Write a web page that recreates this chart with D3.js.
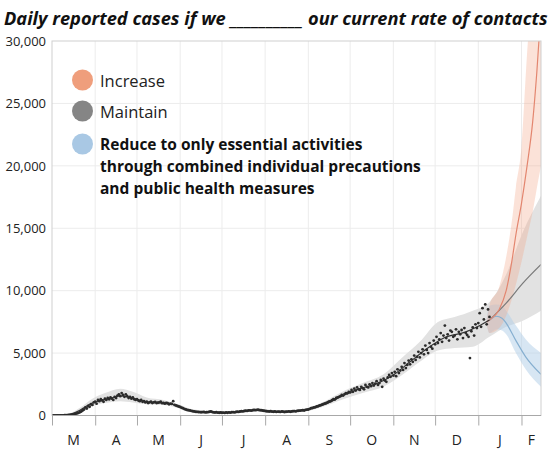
<!DOCTYPE html>
<html>
<head>
<meta charset="utf-8">
<script src="https://cdn.jsdelivr.net/npm/d3@7"></script>
<style>
  body { margin: 0; background: #fff; }
  svg { display: block; }
  text { font-family: "Open Sans", "Noto Sans", sans-serif; }
</style>
</head>
<body>
<div id="chart"></div>
<script>
// Month letters along the bottom and value ticks on the left
var monthLabels = ["M", "A", "M", "J", "J", "A", "S", "O", "N", "D", "J", "F"];
var yTicks = [0, 5000, 10000, 15000, 20000, 25000, 30000];

// Daily reported cases (dots), one value per day starting Mar 1 2020
var obsStart = "2020-03-01";
var casesMar = [0, 0, 0, 1, 2, 5, 8, 10, 15, 20, 25, 30, 40, 55, 70, 90, 110, 140, 170, 210, 260, 320, 400, 480, 650, 560, 760, 700, 900, 850, 1050];
var casesApr = [1100, 950, 1250, 1150, 1300, 1200, 1100, 1350, 1250, 1400, 1300, 1450, 1350, 1250, 1500, 1400, 1600, 1700, 1550, 1800, 1650, 1500, 1700, 1550, 1400, 1500, 1350, 1450, 1300, 1250];
var casesMay = [1300, 1200, 1150, 1250, 1100, 1150, 1050, 1100, 1000, 1050, 1100, 1000, 1050, 1080, 1000, 1020, 1050, 1100, 990, 1000, 950, 1000, 980, 900, 950, 930, 1150, 850, 800, 760, 720];
var casesJun = [680, 620, 580, 520, 480, 440, 420, 400, 370, 340, 320, 300, 290, 280, 270, 260, 270, 280, 250, 260, 270, 300, 330, 280, 250, 240, 260, 230, 220, 240];
var casesJul = [220, 230, 210, 240, 220, 250, 230, 260, 270, 250, 280, 300, 290, 320, 340, 330, 360, 380, 370, 400, 410, 390, 420, 440, 430, 450, 460, 430, 420, 400, 380];
var casesAug = [360, 340, 330, 320, 340, 310, 300, 320, 290, 310, 300, 290, 320, 300, 280, 300, 310, 330, 300, 320, 340, 350, 330, 370, 380, 390, 410, 420, 400, 450, 470];
var casesSep = [480, 530, 580, 600, 640, 660, 720, 740, 800, 830, 880, 920, 960, 1000, 1060, 1120, 1150, 1230, 1300, 1280, 1400, 1450, 1500, 1550, 1650, 1600, 1720, 1800, 1780, 1900];
var casesOct = [1850, 2050, 1900, 2150, 2000, 2250, 2100, 2050, 2300, 2200, 2100, 2450, 2300, 2250, 2500, 2350, 2600, 2400, 2550, 2750, 2450, 2600, 2850, 2300, 2950, 2800, 2700, 3050, 3250, 3100, 3400];
var casesNov = [3200, 3500, 3150, 3700, 3400, 3600, 3900, 3650, 4200, 3800, 4050, 4400, 4100, 4500, 4300, 4800, 4450, 4700, 5100, 4650, 5000, 5300, 4900, 5600, 5250, 5000, 5800, 5500, 5350, 6000];
var casesDec = [5700, 6300, 5800, 6100, 6600, 5900, 6400, 7200, 6200, 6500, 6000, 6800, 6700, 6300, 6400, 6900, 6100, 6700, 6500, 6850, 6200, 7000, 6600, 6450, 6300, 4600, 6750, 7050, 6400, 7300, 7000];
var casesJan = [7400, 8200, 7100, 8600, 7700, 8900, 7300, 8500, 7900];

// Fitted curve through the observed period
var fitDates = ["2020-03-01", "2020-03-08", "2020-03-14", "2020-03-21", "2020-03-25", "2020-03-30", "2020-04-05", "2020-04-12", "2020-04-19", "2020-04-26", "2020-05-03", "2020-05-10", "2020-05-18", "2020-05-25", "2020-05-31", "2020-06-08", "2020-06-16", "2020-06-25", "2020-07-03", "2020-07-10", "2020-07-20", "2020-07-27", "2020-08-03", "2020-08-15", "2020-08-27", "2020-09-03", "2020-09-14", "2020-09-26", "2020-10-08", "2020-10-20", "2020-11-01", "2020-11-13", "2020-11-25", "2020-12-08", "2020-12-23", "2021-01-01", "2021-01-09"];
var fitValues = [0, 20, 100, 420, 700, 1000, 1200, 1380, 1580, 1450, 1220, 1060, 1030, 950, 720, 400, 270, 260, 230, 260, 400, 440, 330, 300, 400, 560, 950, 1600, 2150, 2550, 3250, 4300, 5350, 6250, 6700, 7150, 7650];

// Grey uncertainty band (observed fit, then "maintain")
var bandDates = ["2020-03-01", "2020-03-14", "2020-03-21", "2020-03-30", "2020-04-08", "2020-04-19", "2020-04-28", "2020-05-08", "2020-05-20", "2020-05-31", "2020-06-10", "2020-06-25", "2020-07-10", "2020-07-25", "2020-08-10", "2020-08-27", "2020-09-10", "2020-09-26", "2020-10-10", "2020-10-25", "2020-11-08", "2020-11-20", "2020-12-03", "2020-12-15", "2020-12-28", "2021-01-09", "2021-01-21", "2021-02-02", "2021-02-15"];
var bandLo = [0, 30, 250, 750, 1000, 1150, 1050, 900, 850, 580, 280, 180, 180, 330, 220, 300, 650, 1300, 1800, 2300, 3300, 4300, 5200, 5400, 5500, 6300, 7100, 7600, 8400];
var bandHi = [0, 180, 620, 1350, 1800, 2150, 1900, 1450, 1250, 880, 500, 360, 360, 560, 420, 520, 1000, 1950, 2600, 3300, 4700, 5900, 7500, 7900, 8400, 9100, 11300, 14700, 17600];

// Maintain projection
var maintainDates = ["2021-01-09", "2021-01-15", "2021-01-21", "2021-02-02", "2021-02-15"];
var maintainValues = [7650, 8300, 9000, 10600, 12100];

// Increase projection
var incDates = ["2021-01-07", "2021-01-09", "2021-01-16", "2021-01-21", "2021-01-25", "2021-01-28", "2021-02-01", "2021-02-05", "2021-02-09", "2021-02-12", "2021-02-15"];
var incValues = [7500, 7650, 8500, 10000, 12300, 14500, 17000, 20000, 23500, 27500, 32500];
var incLo = [7300, 6600, 7000, 8000, 9300, 10500, 12300, 14300, 16300, 18200, 20000];
var incHi = [7700, 8800, 10300, 12700, 15500, 18300, 21500, 29000, 35000, 40000, 45000];

// Reduce projection
var redDates = ["2021-01-07", "2021-01-09", "2021-01-14", "2021-01-18", "2021-01-21", "2021-01-28", "2021-02-04", "2021-02-15"];
var redValues = [7500, 7650, 7950, 7800, 7400, 6000, 4700, 3300];
var redLo = [7300, 6600, 6900, 6800, 6500, 5000, 3700, 2300];
var redHi = [7700, 8800, 8900, 8800, 8400, 7200, 6100, 5000];

var legendItems = ["Increase", "Maintain"];
var legendBold = ["Reduce to only essential activities", "through combined individual precautions", "and public health measures"];

var colors = {
  inc: "#ef9e7c", incLine: "#e3866f", incBand: "rgba(244,168,138,0.33)",
  main: "#858585", mainLine: "#7a7a7a", band: "#e2e2e2",
  red: "#a9c8e4", redLine: "#86afd0", redBand: "rgba(176,206,232,0.5)",
  dot: "#2b2b2b"
};

var parse = d3.timeParse("%Y-%m-%d");

var svg = d3.select("#chart").append("svg").attr("width", 553).attr("height", 459);

var x = d3.scaleTime().domain([parse("2020-03-01"), parse("2021-02-15")]).range([52, 541]);
var y = d3.scaleLinear().domain([0, 30000]).range([415.5, 41]);

function rows(dates, vals, lo, hi) {
  return dates.map(function (d, i) {
    return { date: parse(d), v: vals ? vals[i] : null, lo: lo ? lo[i] : null, hi: hi ? hi[i] : null };
  });
}

var monthStarts = d3.timeMonth.range(x.domain()[0], x.domain()[1]);

// gridlines
var grid = svg.append("g").attr("stroke", "#ececec").attr("stroke-width", 1);
grid.selectAll(".vg").data(monthStarts.slice(1)).enter().append("line")
  .attr("x1", function (d) { return x(d); }).attr("x2", function (d) { return x(d); })
  .attr("y1", y.range()[1]).attr("y2", y.range()[0]);
grid.selectAll(".hg").data(yTicks.slice(1, -1)).enter().append("line")
  .attr("x1", x.range()[0]).attr("x2", x.range()[1])
  .attr("y1", function (d) { return y(d); }).attr("y2", function (d) { return y(d); });

svg.append("clipPath").attr("id", "plot").append("rect")
  .attr("x", x.range()[0]).attr("y", y.range()[1])
  .attr("width", x.range()[1] - x.range()[0]).attr("height", y.range()[0] - y.range()[1]);

var plot = svg.append("g").attr("clip-path", "url(#plot)");

var area = d3.area().curve(d3.curveMonotoneX)
  .x(function (d) { return x(d.date); })
  .y0(function (d) { return y(d.lo); })
  .y1(function (d) { return y(d.hi); });
var line = d3.line().curve(d3.curveMonotoneX)
  .x(function (d) { return x(d.date); })
  .y(function (d) { return y(d.v); });

plot.append("path").datum(rows(bandDates, null, bandLo, bandHi)).attr("d", area).attr("fill", colors.band);
plot.append("path").datum(rows(redDates, null, redLo, redHi)).attr("d", area).attr("fill", colors.redBand);
plot.append("path").datum(rows(incDates, null, incLo, incHi)).attr("d", area).attr("fill", colors.incBand);

plot.append("path").datum(rows(maintainDates, maintainValues)).attr("d", line)
  .attr("fill", "none").attr("stroke", colors.mainLine).attr("stroke-width", 1.2);
plot.append("path").datum(rows(redDates, redValues)).attr("d", line)
  .attr("fill", "none").attr("stroke", colors.redLine).attr("stroke-width", 1.2);
plot.append("path").datum(rows(incDates, incValues)).attr("d", line)
  .attr("fill", "none").attr("stroke", colors.incLine).attr("stroke-width", 1.2);
plot.append("path").datum(rows(fitDates, fitValues)).attr("d", line)
  .attr("fill", "none").attr("stroke", "#333").attr("stroke-width", 1.2);

// daily dots
var dailyCases = [].concat(casesMar, casesApr, casesMay, casesJun, casesJul, casesAug, casesSep, casesOct, casesNov, casesDec, casesJan);
var start = parse(obsStart);
plot.selectAll(".dot").data(dailyCases).enter().append("circle")
  .attr("class", "dot")
  .attr("cx", function (d, i) { return x(d3.timeDay.offset(start, i)); })
  .attr("cy", function (d) { return y(d); })
  .attr("r", 1.4)
  .attr("fill", colors.dot);

// frame
svg.append("rect")
  .attr("x", x.range()[0]).attr("y", y.range()[1])
  .attr("width", x.range()[1] - x.range()[0]).attr("height", y.range()[0] - y.range()[1])
  .attr("fill", "none").attr("stroke", "#cfcfcf");

// x axis: month ticks, letters centred in each month
var xAxis = svg.append("g")
  .attr("transform", "translate(0," + y.range()[0] + ")")
  .call(d3.axisBottom(x).tickValues(monthStarts).tickSize(10).tickFormat(""));
xAxis.select(".domain").attr("stroke", "#a8a8a8").attr("d", "M" + x.range()[0] + ",0H" + x.range()[1]);
xAxis.selectAll(".tick line").attr("stroke", "#a8a8a8");

svg.selectAll(".mlabel").data(monthStarts).enter().append("text")
  .attr("x", function (d, i) {
    var end = i < monthStarts.length - 1 ? monthStarts[i + 1] : x.domain()[1];
    return (x(d) + x(end)) / 2;
  })
  .attr("y", 445)
  .attr("text-anchor", "middle")
  .attr("font-size", "14px")
  .attr("fill", "#222")
  .text(function (d, i) { return monthLabels[i]; });

// y axis labels
var yAxis = svg.append("g")
  .attr("transform", "translate(" + x.range()[0] + ",0)")
  .call(d3.axisLeft(y).tickValues(yTicks).tickSize(0).tickPadding(6).tickFormat(d3.format(",")));
yAxis.select(".domain").remove();
yAxis.selectAll("text").attr("font-family", "Open Sans").attr("font-size", "13px").attr("fill", "#222");

// title
var title = svg.append("text")
  .attr("x", 4).attr("y", 25)
  .attr("font-size", "16px")
  .attr("font-weight", "bold")
  .attr("font-style", "italic")
  .attr("fill", "#111")
  .text("Daily reported cases if we __________ our current rate of contacts");
var tw = title.node().getComputedTextLength();
title.attr("font-size", (16 * 544 / tw) + "px");

// legend
var legendColors = [colors.inc, colors.main, colors.red];
svg.append("filter").attr("id", "soft").append("feGaussianBlur").attr("stdDeviation", 0.7);
svg.selectAll(".lg").data(legendColors).enter().append("circle")
  .attr("cx", 82.5)
  .attr("cy", function (d, i) { return [80, 111, 144][i]; })
  .attr("r", 10.5)
  .attr("fill", function (d) { return d; })
  .attr("filter", "url(#soft)");

svg.selectAll(".lt").data(legendItems).enter().append("text")
  .attr("x", 100)
  .attr("y", function (d, i) { return 86.5 + i * 31.5; })
  .attr("font-size", "16.5px")
  .attr("fill", "#222")
  .text(function (d) { return d; });

svg.selectAll(".lb").data(legendBold).enter().append("text")
  .attr("x", 100)
  .attr("y", function (d, i) { return 150 + i * 22; })
  .attr("font-size", "15.5px")
  .attr("font-weight", "bold")
  .attr("fill", "#111")
  .text(function (d) { return d; });
</script>
</body>
</html>
